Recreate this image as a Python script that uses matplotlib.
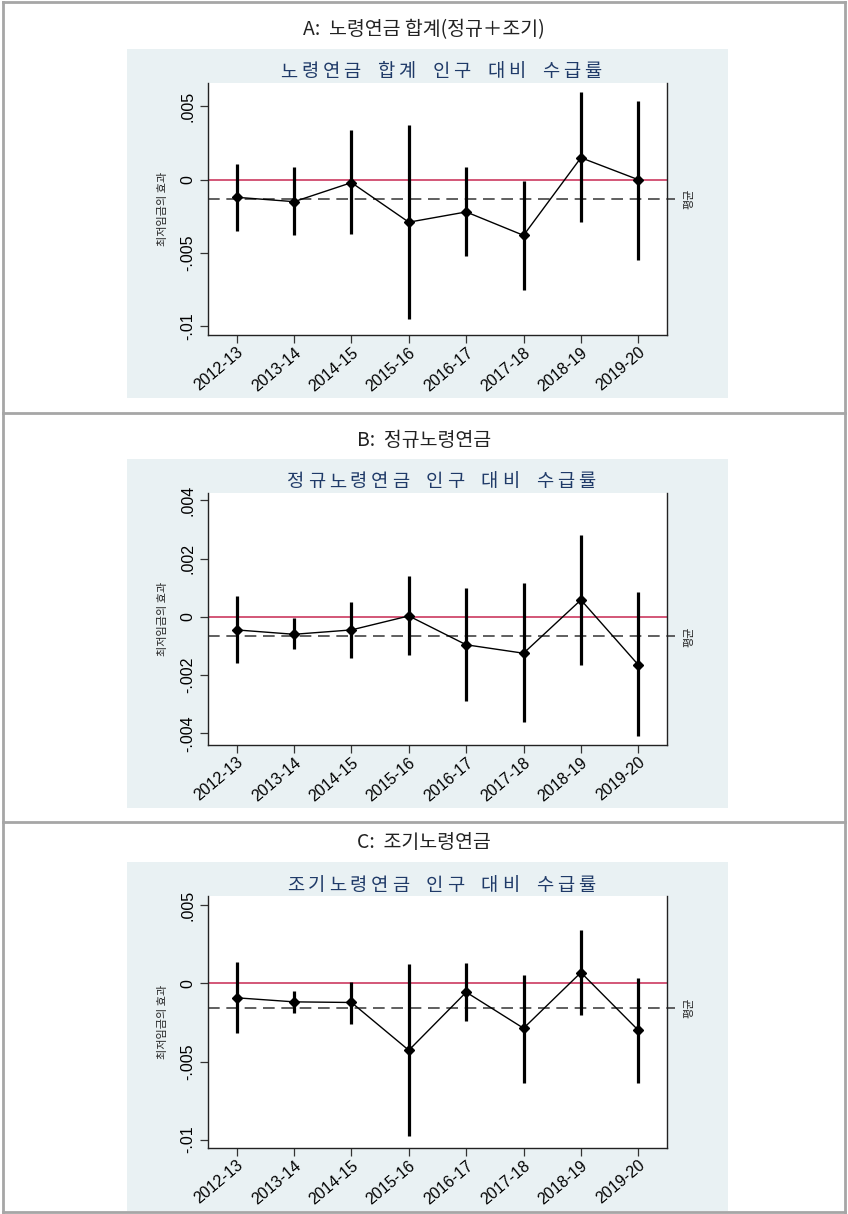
import matplotlib.pyplot as plt
from matplotlib.lines import Line2D
from matplotlib.patches import Rectangle

plt.rcParams['font.family'] = ['Noto Sans CJK KR', 'DejaVu Sans']

years = ['2012-13', '2013-14', '2014-15', '2015-16', '2016-17', '2017-18', '2018-19', '2019-20']

# 노령연금 합계
a_coef = [-0.0012, -0.0015, -0.0002, -0.0029, -0.0022, -0.0038, 0.0015, 0.0000]
a_lo = [-0.0035, -0.0038, -0.0037, -0.0095, -0.0052, -0.0075, -0.0029, -0.0055]
a_hi = [0.0011, 0.0009, 0.0034, 0.0037, 0.0009, -0.0001, 0.0060, 0.0054]
a_mean = -0.0013

# 정규노령연금
b_coef = [-0.00045, -0.0006, -0.00045, 0.00003, -0.00096, -0.00125, 0.00058, -0.00165]
b_lo = [-0.0016, -0.0011, -0.0014, -0.0013, -0.0029, -0.0036, -0.00165, -0.0041]
b_hi = [0.0007, -0.00005, 0.0005, 0.0014, 0.0010, 0.00115, 0.0028, 0.00085]
b_mean = -0.00067

# 조기노령연금
c_coef = [-0.00092, -0.00118, -0.00122, -0.00428, -0.00056, -0.00287, 0.0007, -0.0030]
c_lo = [-0.0032, -0.0019, -0.0026, -0.0098, -0.0024, -0.0064, -0.0020, -0.0064]
c_hi = [0.00137, -0.00047, 0.0001, 0.00126, 0.00128, 0.00057, 0.0034, 0.00038]
c_mean = -0.00156

W, H = 848, 1214
fig = plt.figure(figsize=(W / 100, H / 100), dpi=100)
fig.patch.set_facecolor('white')


def box(x0, y0, x1, y1):
    # pixel box (top-left origin) -> figure fraction rect
    return [x0 / W, 1 - y1 / H, (x1 - x0) / W, (y1 - y0) / H]


def hline(y, x0=3, x1=845):
    fig.add_artist(Line2D([x0 / W, x1 / W], [1 - y / H, 1 - y / H],
                          color='#a6a6a6', lw=2))


def spaced_title(text, xc, y, step=21, gap=13):
    # graph title with wide letter spacing, one glyph at a time
    total = sum(gap if ch == ' ' else step for ch in text)
    cur = xc - total / 2
    for ch in text:
        if ch == ' ':
            cur += gap
            continue
        fig.text((cur + step / 2) / W, 1 - y / H, ch, ha='center', va='center',
                 fontsize=13.5, color='#1f3a68')
        cur += step


def panel(top, heading, subtitle, coef, lo, hi, mean, ylim, ticks, ticklabels):
    fig.text(424 / W, 1 - (top + 30) / H, heading, ha='center', va='center',
             fontsize=14, color='#222222')
    fig.add_artist(Rectangle((127 / W, 1 - (top + 398) / H), (728 - 127) / W, 349 / H,
                             transform=fig.transFigure, facecolor='#e9f1f3',
                             edgecolor='none', zorder=0))
    spaced_title(subtitle, 441, top + 72)

    ax = fig.add_axes(box(208, top + 83, 667, top + 335))
    ax.set_facecolor('white')
    x = list(range(1, len(years) + 1))

    ax.axhline(0, color='#cc3a60', lw=1.2, zorder=1)
    ax.axhline(mean, xmin=0, xmax=1.018, color='#444444', lw=1.2,
               ls=(0, (7, 4)), clip_on=False, zorder=1)
    ax.vlines(x, lo, hi, color='black', lw=2.3, zorder=2)
    ax.plot(x, coef, color='black', lw=1.0, marker='D', ms=5, zorder=3)

    ax.set_xlim(0.5, 8.5)
    ax.set_ylim(*ylim)
    ax.set_xticks(x)
    ax.set_xticklabels(years, rotation=40, ha='right', rotation_mode='anchor',
                       fontsize=11.5, family='Liberation Sans')
    ax.set_yticks(ticks)
    ax.set_yticklabels(ticklabels, rotation=90, va='center',
                       fontsize=11.5, family='Liberation Sans')
    ax.tick_params(axis='both', length=6, width=0.9, color='#333333', pad=3)
    ax.tick_params(axis='x', pad=1)
    ax.spines['top'].set_visible(False)
    for s in ['left', 'bottom', 'right']:
        ax.spines[s].set_linewidth(1.0)
        ax.spines[s].set_color('#222222')

    fig.text(163 / W, 1 - (top + 209) / H, '최저임금의 효과', rotation=90,
             ha='center', va='center', fontsize=8, color='#222222')
    ymean = ax.transData.transform((0, mean))[1]
    fig.text(689 / W, ymean / fig.bbox.height, '평균', rotation=90,
             ha='center', va='center', fontsize=8, color='#222222')


panel(0, 'A:  노령연금 합계(정규＋조기)', '노령연금 합계 인구 대비 수급률',
      a_coef, a_lo, a_hi, a_mean, (-0.0106, 0.0066),
      [-0.01, -0.005, 0, 0.005], ['-.01', '-.005', '0', '.005'])
panel(410, 'B:  정규노령연금', '정규노령연금 인구 대비 수급률',
      b_coef, b_lo, b_hi, b_mean, (-0.0044, 0.00425),
      [-0.004, -0.002, 0, 0.002, 0.004], ['-.004', '-.002', '0', '.002', '.004'])
panel(813, 'C:  조기노령연금', '조기노령연금 인구 대비 수급률',
      c_coef, c_lo, c_hi, c_mean, (-0.01054, 0.0056),
      [-0.01, -0.005, 0, 0.005], ['-.01', '-.005', '0', '.005'])

# outer frame and separators
for y in [2, 413, 822, 1212]:
    hline(y)
for xv in [3, 845]:
    fig.add_artist(Line2D([xv / W, xv / W], [1 - 2 / H, 1 - 1212 / H],
                          color='#a6a6a6', lw=2))

fig.savefig('out.png', dpi=100)
